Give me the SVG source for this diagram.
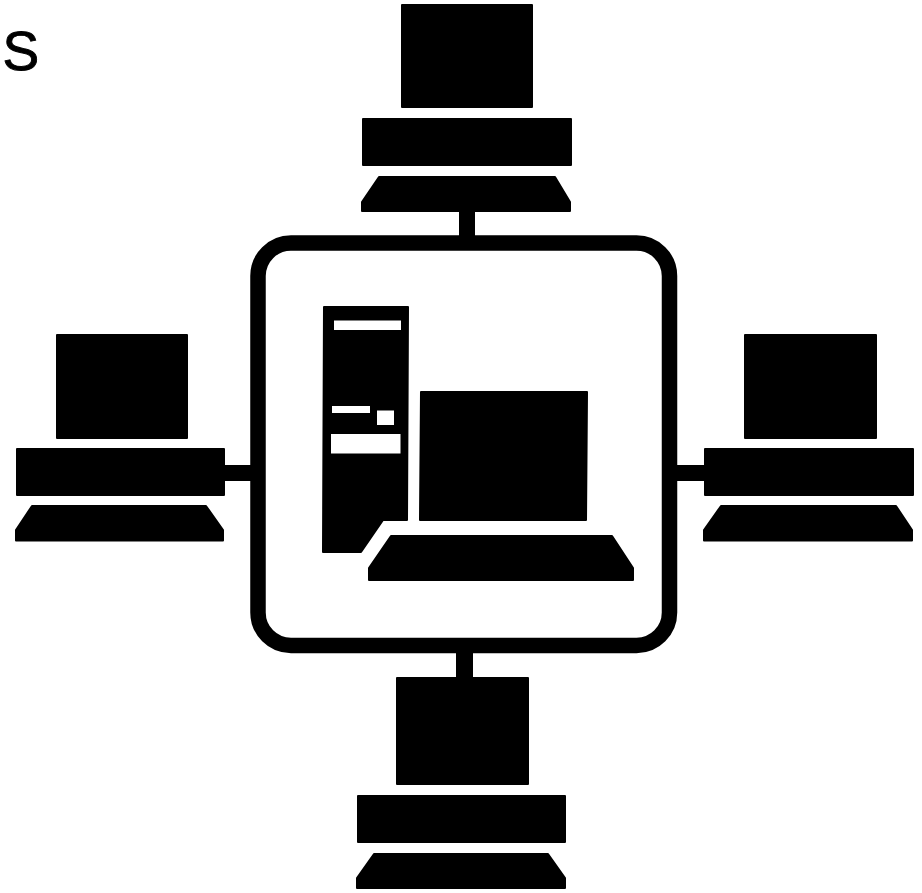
<svg xmlns="http://www.w3.org/2000/svg" width="922" height="893" viewBox="0 0 922 893">
<style>.k{fill:#000;stroke:#000;stroke-width:2;stroke-linejoin:round}.w{fill:#fff}text{font-family:"Liberation Sans",Arial,sans-serif;font-size:55px;fill:#000;stroke:#000;stroke-width:.9}</style>
<rect width="922" height="893" fill="#fff"/>
<text x="2.500" y="69.500">S</text>
<g id="connectors" fill="#000">
<rect x="459" y="205" width="16" height="40"/>
<rect x="215" y="465" width="45" height="16"/>
<rect x="670" y="465" width="45" height="16"/>
<rect x="456" y="645" width="17" height="40"/>
</g>
<g id="hub"><rect x="258" y="243" width="411.500" height="402.500" rx="33" fill="#fff" stroke="#000" stroke-width="15.500"/>
<path class="k" d="M324 307H408L407 520H383L361 552H323Z"/>
<rect class="w" x="334" y="320.500" width="67" height="9.500"/>
<rect class="w" x="332" y="406" width="38" height="7"/>
<rect class="w" x="377" y="410.500" width="17" height="14.500"/>
<rect class="w" x="331" y="434" width="69.500" height="19.500"/>
<path class="k" d="M421 392H587L586 520H420Z"/>
<path class="k" d="M391 536H612L633 568V580H369V568Z"/></g>
<g id="top" class="k"><rect x="402" y="5" width="130" height="102"/><rect x="363" y="119" width="208" height="46"/><path d="M379 177H555L570 202V211H362V202Z"/></g>
<g id="left" class="k"><rect x="57" y="335" width="130" height="103"/><rect x="17" y="449" width="207" height="46"/><path d="M32 506H206L223 530V540.500H16V530Z"/></g>
<g id="right" class="k"><rect x="745" y="335" width="131" height="103"/><rect x="705" y="449" width="208" height="46"/><path d="M721 506H896L912 530V540.500H704V530Z"/></g>
<g id="bottom" class="k"><rect x="397" y="678" width="131" height="106"/><rect x="358" y="796" width="207" height="46"/><path d="M374 854H548L565 878V888H357V878Z"/></g>
</svg>
